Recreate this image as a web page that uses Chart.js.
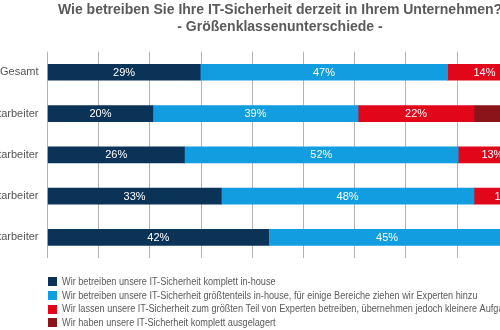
<!DOCTYPE html>
<html><head><meta charset="utf-8">
<script src="https://cdn.jsdelivr.net/npm/chart.js@4/dist/chart.umd.min.js"></script>
<style>html,body{margin:0;padding:0;background:#fff;overflow:hidden}#wrap{position:relative;width:500px;height:330px;overflow:hidden}#c{position:absolute;left:-14px;top:0}</style>
</head><body><div id="wrap"><canvas id="c" width="588" height="330"></canvas></div>
<script>
const titleLines = ['Wie betreiben Sie Ihre IT-Sicherheit derzeit in Ihrem Unternehmen?', '- Größenklassenunterschiede -'];
const categories = ['Gesamt', '1-9 Mitarbeiter', '10-49 Mitarbeiter', '50-249 Mitarbeiter', '250+ Mitarbeiter'];
const seriesNames = [
  'Wir betreiben unsere IT-Sicherheit komplett in-house',
  'Wir betreiben unsere IT-Sicherheit größtenteils in-house, für einige Bereiche ziehen wir Experten hinzu',
  'Wir lassen unsere IT-Sicherheit zum größten Teil von Experten betreiben, übernehmen jedoch kleinere Aufgaben',
  'Wir haben unsere IT-Sicherheit komplett ausgelagert'
];
const komplettInhouse = [29, 20, 26, 33, 42];
const groesstenteilsInhouse = [47, 39, 52, 48, 45];
const groesstenteilsExtern = [14, 22, 13, 12, 11];
const komplettAusgelagert = [10, 19, 9, 7, 2];
const seriesColors = ['#0b3358', '#119ddf', '#e2061b', '#8a1419'];
const FONT = "'Liberation Sans', Arial, sans-serif";
const GRID_STEP = 9.725;

const valueLabels = {
  id: 'valueLabels',
  afterDatasetsDraw(chart) {
    const ctx = chart.ctx;
    ctx.save();
    ctx.font = '11px ' + FONT;
    ctx.fillStyle = '#ffffff';
    ctx.textAlign = 'center';
    ctx.textBaseline = 'middle';
    chart.data.datasets.forEach((ds, i) => {
      chart.getDatasetMeta(i).data.forEach((bar, j) => {
        const v = ds.data[j];
        if (!v) return;
        ctx.fillText(v + '%', (bar.x + bar.base) / 2, bar.y + 0.5);
      });
    });
    ctx.restore();
  }
};

const customLegend = {
  id: 'customLegend',
  afterDraw(chart) {
    const ctx = chart.ctx;
    const x0 = chart.chartArea.left;
    const squeeze = 0.915;
    ctx.save();
    ctx.font = '10px ' + FONT;
    ctx.textBaseline = 'middle';
    ctx.textAlign = 'left';
    chart.data.datasets.forEach((ds, i) => {
      const y = 281.5 + i * 13.8;
      ctx.fillStyle = ds.backgroundColor;
      ctx.fillRect(Math.round(x0), Math.round(y - 4.5), 9, 9);
      ctx.save();
      ctx.translate(x0 + 14.5, y + 0.5);
      ctx.scale(squeeze, 1);
      ctx.fillStyle = '#5a5a5a';
      ctx.fillText(ds.label, 0, 0);
      ctx.restore();
    });
    ctx.restore();
  }
};

new Chart(document.getElementById('c'), {
  type: 'bar',
  data: {
    labels: categories,
    datasets: [komplettInhouse, groesstenteilsInhouse, groesstenteilsExtern, komplettAusgelagert].map((d, i) => ({
      label: seriesNames[i],
      data: d,
      backgroundColor: seriesColors[i],
      borderWidth: 0,
      barThickness: 16
    }))
  },
  options: {
    indexAxis: 'y',
    responsive: false,
    devicePixelRatio: 1,
    animation: false,
    layout: { padding: { left: 0, right: 0, top: 0, bottom: 72 } },
    plugins: {
      legend: { display: false },
      tooltip: { enabled: false },
      title: {
        display: true,
        text: titleLines,
        color: '#5a5a5a',
        font: { family: FONT, size: 14, weight: 'bold', lineHeight: 1.22 },
        padding: { top: 2, bottom: 15.5 }
      }
    },
    scales: {
      x: {
        stacked: true,
        min: 0,
        max: 100,
        border: { display: false },
        ticks: { display: false },
        grid: { color: '#b4b4b4', lineWidth: 1, drawTicks: false },
        afterBuildTicks(scale) {
          const t = [];
          for (let k = 0; k <= 10; k++) t.push({ value: k * GRID_STEP });
          scale.ticks = t;
        },
        afterFit(scale) { scale.height = 0; }
      },
      y: {
        stacked: true,
        border: { display: false },
        grid: { display: false, drawTicks: false },
        ticks: { color: '#555555', padding: 9, font: { family: FONT, size: 11 } },
        afterFit(scale) { scale.width = 61.5; }
      }
    }
  },
  plugins: [valueLabels, customLegend]
});
</script></body></html>
